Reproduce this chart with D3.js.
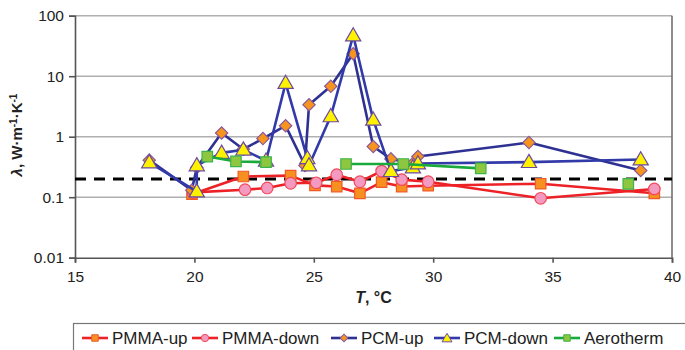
<!DOCTYPE html>
<html>
<head>
<meta charset="utf-8">
<script src="https://cdn.jsdelivr.net/npm/d3@7"></script>
<style>
  body { margin: 0; background: #fff; }
  text { font-family: "Liberation Sans", Arial, sans-serif; }
</style>
</head>
<body>
<div id="chart"></div>
<script>
// values (T in °C, lambda in W/m/K)
var pmmaUpT = [19.9, 22.05, 24.03, 25.05, 25.96, 26.93, 27.84, 28.68, 29.79, 34.5, 39.26];
var pmmaUpL = [0.112, 0.22, 0.227, 0.157, 0.15, 0.116, 0.177, 0.15, 0.155, 0.167, 0.116];

var pmmaDownT = [19.95, 22.12, 23.05, 24.03, 25.1, 25.96, 26.93, 27.84, 28.68, 29.79, 34.5, 39.26];
var pmmaDownL = [0.12, 0.133, 0.142, 0.17, 0.173, 0.235, 0.18, 0.27, 0.195, 0.18, 0.096, 0.137];

var pcmUpT = [18.11, 19.89, 20.1, 21.14, 22.05, 22.87, 23.82, 24.63, 24.8, 25.71, 26.65, 27.49, 28.23, 29.15, 29.36, 34.01, 38.69];
var pcmUpL = [0.41, 0.13, 0.31, 1.15, 0.62, 0.93, 1.52, 0.335, 3.38, 6.8, 23.5, 0.69, 0.43, 0.36, 0.47, 0.8, 0.277];

var pcmDownT = [18.11, 20.1, 20.1, 21.14, 22.05, 23.0, 23.82, 24.73, 24.8, 25.71, 26.65, 27.49, 28.23, 29.15, 29.36, 34.01, 38.69];
var pcmDownL = [0.376, 0.124, 0.335, 0.54, 0.61, 0.4, 7.7, 0.44, 0.335, 2.17, 47, 1.9, 0.27, 0.31, 0.36, 0.38, 0.42];

// null = break in the line
var aeroT = [20.54, 21.74, 23.0, null, 26.35, 28.75, 31.99, null, 38.17];
var aeroL = [0.47, 0.39, 0.38, null, 0.354, 0.354, 0.3, null, 0.166];

var limitL = 0.2;

var xTicks = [15, 20, 25, 30, 35, 40];
var yTicks = [0.01, 0.1, 1, 10, 100];
var yTickLabels = ["0.01", "0.1", "1", "10", "100"];

var width = 685, height = 350;
var plotLeft = 75, plotRight = 672, plotTop = 15.7, plotBottom = 257.7;

var svg = d3.select("#chart").append("svg")
    .attr("width", width)
    .attr("height", height);

var x = d3.scaleLinear().domain([15, 40]).range([plotLeft, plotRight]);
var y = d3.scaleLog().domain([0.01, 100]).range([plotBottom, plotTop]);

// grid
svg.append("g").selectAll("line")
    .data(yTicks.filter(function (d) { return d > 0.01; }))
    .enter().append("line")
    .attr("x1", plotLeft).attr("x2", plotRight)
    .attr("y1", function (d) { return y(d); })
    .attr("y2", function (d) { return y(d); })
    .attr("stroke", "#b0b0b0")
    .attr("stroke-width", 1.6);

// frame on the right
svg.append("line")
    .attr("x1", plotRight).attr("x2", plotRight)
    .attr("y1", plotTop).attr("y2", plotBottom)
    .attr("stroke", "#707070").attr("stroke-width", 1.6);

var xAxis = svg.append("g")
    .attr("transform", "translate(0," + plotBottom + ")")
    .call(d3.axisBottom(x).tickValues(xTicks).tickSize(5).tickPadding(8));

var yAxis = svg.append("g")
    .attr("transform", "translate(" + plotLeft + ",0)")
    .call(d3.axisLeft(y).tickValues(yTicks).tickSize(6).tickPadding(5)
        .tickFormat(function (d, i) { return yTickLabels[i]; }));

[xAxis, yAxis].forEach(function (a) {
    a.selectAll("path, line").attr("stroke", "#555").attr("stroke-width", 1.6);
    a.selectAll("text")
        .style("font-size", "15.5px")
        .attr("fill", "#222");
});

// dashed reference level
svg.append("line")
    .attr("x1", plotLeft).attr("x2", plotRight)
    .attr("y1", y(limitL)).attr("y2", y(limitL))
    .attr("stroke", "#000")
    .attr("stroke-width", 3)
    .attr("stroke-dasharray", "11,8");

var series = [
    {name: "PMMA-up", t: pmmaUpT, l: pmmaUpL, line: "#ec2227", fill: "#f7901e", stroke: "#f05a28", shape: "square"},
    {name: "PMMA-down", t: pmmaDownT, l: pmmaDownL, line: "#ec2227", fill: "#f49ac1", stroke: "#f04a5a", shape: "circle"},
    {name: "PCM-up", t: pcmUpT, l: pcmUpL, line: "#2e3192", fill: "#f7941d", stroke: "#8a5a9a", shape: "diamond"},
    {name: "PCM-down", t: pcmDownT, l: pcmDownL, line: "#3239a8", fill: "#fff200", stroke: "#6a4aa0", shape: "triangle"},
    {name: "Aerotherm", t: aeroT, l: aeroL, line: "#1aaa3c", fill: "#8dc63f", stroke: "#3cb44a", shape: "square"}
];

// diamond = square turned by 45 degrees
var symbolTypes = {
    square: d3.symbolSquare,
    circle: d3.symbolCircle,
    diamond: d3.symbolSquare,
    triangle: d3.symbolTriangle
};
var symbolSizes = {square: 110, circle: 105, diamond: 76, triangle: 100};

function markTransform(shape, px, py) {
    if (shape === "diamond") return "translate(" + px + "," + py + ") rotate(45)";
    if (shape === "triangle") return "translate(" + px + "," + (py + 1) + ")";
    return "translate(" + px + "," + py + ")";
}

series.forEach(function (s) {
    var pts = s.t.map(function (t, i) { return {t: t, l: s.l[i]}; });

    var line = d3.line()
        .defined(function (d) { return d.t !== null; })
        .x(function (d) { return x(d.t); })
        .y(function (d) { return y(d.l); });

    svg.append("path")
        .datum(pts)
        .attr("d", line)
        .attr("fill", "none")
        .attr("stroke", s.line)
        .attr("stroke-width", 2.6)
        .attr("stroke-linejoin", "round");

    svg.append("g").selectAll("path")
        .data(pts.filter(function (d) { return d.t !== null; }))
        .enter().append("path")
        .attr("d", d3.symbol().type(symbolTypes[s.shape]).size(symbolSizes[s.shape]))
        .attr("transform", function (d) { return markTransform(s.shape, x(d.t), y(d.l)); })
        .attr("fill", s.fill)
        .attr("stroke", s.stroke)
        .attr("stroke-width", 1.2);
});

// axis titles
var xt = svg.append("text")
    .attr("x", (plotLeft + plotRight) / 2)
    .attr("y", 303)
    .attr("text-anchor", "middle")
    .style("font-size", "16px")
    .style("font-weight", "bold")
    .attr("fill", "#222");
xt.append("tspan").style("font-style", "italic").text("T");
xt.append("tspan").text(", °C");

var yt = svg.append("text")
    .attr("transform", "translate(22,135) rotate(-90)")
    .attr("text-anchor", "middle")
    .style("font-size", "15px")
    .style("font-weight", "bold")
    .attr("fill", "#222");
yt.append("tspan").style("font-style", "italic").text("λ");
yt.append("tspan").text(", W·m");
yt.append("tspan").attr("dy", -5).style("font-size", "10px").text("-1");
yt.append("tspan").attr("dy", 5).text("·K");
yt.append("tspan").attr("dy", -5).style("font-size", "10px").text("-1");

// legend
svg.append("rect")
    .attr("x", 73.5).attr("y", 323.5)
    .attr("width", 620).attr("height", 40)
    .attr("fill", "#fff")
    .attr("stroke", "#777")
    .attr("stroke-width", 1.2);

var legendX = [82, 192, 331, 434, 554];
var legend = svg.append("g").selectAll("g")
    .data(series)
    .enter().append("g")
    .attr("transform", function (d, i) { return "translate(" + legendX[i] + ",338)"; });

legend.append("line")
    .attr("x1", 0).attr("x2", 26)
    .attr("stroke", function (d) { return d.line; })
    .attr("stroke-width", 2.6);

legend.append("path")
    .attr("d", function (d) {
        return d3.symbol().type(symbolTypes[d.shape]).size(d.shape === "diamond" ? 28 : 42)();
    })
    .attr("transform", function (d) { return markTransform(d.shape, 13, 0); })
    .attr("fill", function (d) { return d.fill; })
    .attr("stroke", function (d) { return d.stroke; })
    .attr("stroke-width", 1);

legend.append("text")
    .attr("x", 30)
    .attr("y", 6)
    .style("font-size", "17px")
    .attr("fill", "#222")
    .text(function (d) { return d.name; });
</script>
</body>
</html>
